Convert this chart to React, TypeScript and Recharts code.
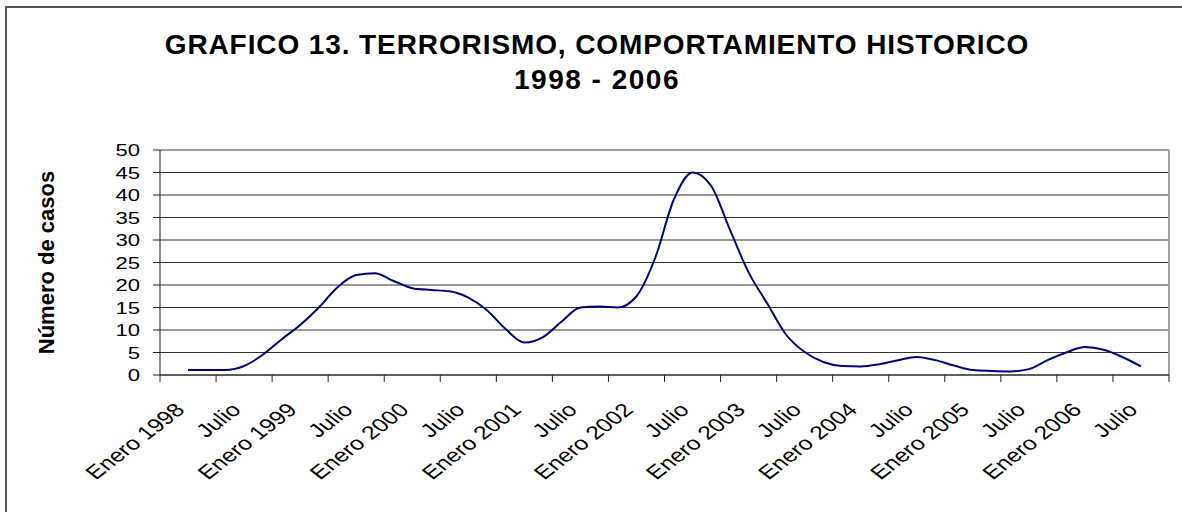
import { LineChart, Line, XAxis, YAxis, CartesianGrid, ReferenceLine } from 'recharts'

const FONT = "'Liberation Sans', Arial, sans-serif"

// month index counted from Enero 1998 (0) — one point every two months
const MONTHS = [
  3, 5, 7, 9, 11, 13, 15, 17, 19, 21, 23, 25, 27, 29, 31, 33, 35, 37, 39, 41, 43, 45, 47, 49, 51, 53,
  55, 57, 59, 61, 63, 65, 67, 69, 71, 73, 75, 77, 79, 81, 83, 85, 87, 89, 91, 93, 95, 97, 99, 101, 103, 105,
]

const CASES = [
  1.1, 1.1, 1.1, 2.0, 4.5, 7.9, 11.1, 15.0, 19.5, 22.2, 22.6, 20.9, 19.3, 18.9, 18.6, 17.2, 14.4, 10.2,
  7.2, 8.4, 11.9, 15.0, 15.2, 15.0, 17.5, 26.0, 39.0, 45.0, 42.0, 32.3, 22.8, 15.9, 9.0, 5.1, 2.9, 2.0,
  1.9, 2.4, 3.3, 4.0, 3.3, 2.1, 1.1, 0.9, 0.8, 1.3, 3.3, 5.0, 6.2, 5.6, 4.0, 1.9,
]

const X_LABELS = [
  'Enero 1998', 'Julio', 'Enero 1999', 'Julio', 'Enero 2000', 'Julio', 'Enero 2001', 'Julio',
  'Enero 2002', 'Julio', 'Enero 2003', 'Julio', 'Enero 2004', 'Julio', 'Enero 2005', 'Julio',
  'Enero 2006', 'Julio',
]

const Y_TICKS = [0, 5, 10, 15, 20, 25, 30, 35, 40, 45, 50]

// tick marks every 6 months, labels centred between them
const X_TICKS = Array.from({ length: 37 }, (_, i) => i * 3)

const data = MONTHS.map((m, i) => ({ month: m, casos: CASES[i] }))

function XTick({ x, y, payload }: { x: number; y: number; payload: { value: number } }) {
  const v = payload.value
  if (v % 6 === 0) {
    return <line x1={x} y1={y} x2={x} y2={y + 7} stroke="#222" strokeWidth={1} />
  }
  const label = X_LABELS[(v - 3) / 6]
  // the original labels are drawn a bit wider than tall
  return (
    <text
      transform={`translate(${x - 2} ${y + 36}) scale(1.3 1) rotate(-45)`}
      textAnchor="end"
      fontSize={19}
      fontFamily={FONT}
      fill="#000"
    >
      {label}
    </text>
  )
}

function YTick({ x, y, payload }: { x: number; y: number; payload: { value: number } }) {
  return (
    <text
      transform={`translate(${x - 9} ${y + 6}) scale(1.3 1)`}
      textAnchor="end"
      fontSize={17}
      fontFamily={FONT}
      fill="#000"
    >
      {payload.value}
    </text>
  )
}

function YTitle({ viewBox }: { viewBox?: { y: number; height: number } }) {
  const cy = (viewBox?.y ?? 150) + (viewBox?.height ?? 225) / 2
  return (
    <text
      x={46}
      y={cy}
      transform={`rotate(-90 46 ${cy})`}
      textAnchor="middle"
      dominantBaseline="central"
      fontSize={22}
      fontWeight="bold"
      fontFamily={FONT}
      fill="#000"
    >
      Número de casos
    </text>
  )
}

export default function App() {
  return (
    <div
      style={{
        position: 'fixed',
        left: 0,
        top: 0,
        width: 1182,
        height: 512,
        overflow: 'hidden',
        background: '#fff',
      }}
    >
      {/* outer chart frame, only left and top edges fall inside the picture */}
      <div
        style={{
          position: 'absolute',
          left: 5,
          top: 6,
          width: 1300,
          height: 700,
          border: '2px solid #555',
        }}
      />
      <div
        style={{
          position: 'absolute',
          left: 0,
          top: 27,
          width: 1194,
          textAlign: 'center',
          fontFamily: FONT,
          fontWeight: 'bold',
          fontSize: 28,
          lineHeight: '35px',
          color: '#000',
        }}
      >
        <div style={{ letterSpacing: 0.9 }}>GRAFICO 13. TERRORISMO, COMPORTAMIENTO HISTORICO</div>
        <div style={{ letterSpacing: 1.5 }}>1998 - 2006</div>
      </div>
      <div style={{ position: 'absolute', left: 0, top: 0 }}>
        <LineChart width={1182} height={512} data={data} margin={{ top: 150, right: 13, bottom: 0, left: 0 }}>
          <CartesianGrid horizontal vertical={false} stroke="#333" strokeOpacity={1} />
          <XAxis
            dataKey="month"
            type="number"
            domain={[0, 108]}
            ticks={X_TICKS}
            interval={0}
            height={137}
            tickSize={0}
            tickMargin={0}
            tickLine={false}
            axisLine={{ stroke: '#222', strokeWidth: 1 }}
            tick={XTick}
          />
          <YAxis
            type="number"
            domain={[0, 50]}
            ticks={Y_TICKS}
            interval={0}
            width={160}
            tickSize={7}
            tickMargin={4}
            axisLine={{ stroke: '#222', strokeWidth: 1 }}
            tickLine={{ stroke: '#222' }}
            tick={YTick}
            label={<YTitle />}
          />
          <ReferenceLine y={50} stroke="#a0a0a0" strokeWidth={2} />
          <ReferenceLine x={108} stroke="#a0a0a0" strokeWidth={2} />
          <Line
            type="monotone"
            dataKey="casos"
            stroke="#000080"
            strokeWidth={2}
            dot={false}
            isAnimationActive={false}
          />
        </LineChart>
      </div>
    </div>
  )
}
